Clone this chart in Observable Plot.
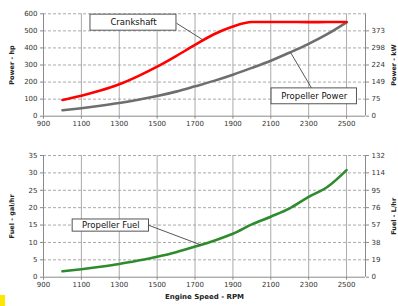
<!DOCTYPE html>
<html><head><meta charset="utf-8">
<script src="https://cdn.jsdelivr.net/npm/d3@7"></script>
<script src="https://cdn.jsdelivr.net/npm/@observablehq/plot@0.6"></script>
<style>
body{margin:0;background:#fff;width:398px;height:306px;overflow:hidden;position:relative;font-family:"DejaVu Sans",sans-serif;}
#topwrap{position:absolute;left:0;top:0;}
#botwrap{position:absolute;left:0;top:140px;}
#mark{position:absolute;left:0;top:295px;width:5px;height:11px;background:#ffe600;}
</style></head>
<body>
<div id="topwrap"></div><div id="botwrap"></div><div id="mark"></div>
<script>
// ---- data ----
const rpm = [1000,1100,1200,1300,1400,1500,1600,1700,1800,1900,2000,2100,2200,2300,2400,2500];
const crankshaftHp = [95,120,150,187,235,290,352,418,480,526,552,552,552,551,552,552];
const propellerHp = [35,47,61,77,96,118,144,175,207,243,283,325,373,424,482,550];
const propellerFuel = [1.7,2.3,3.0,3.8,4.8,5.9,7.2,8.8,10.5,12.5,15.2,17.4,19.8,23.1,26.0,30.8];

const xTicks = [900,1100,1300,1500,1700,1900,2100,2300,2500];
const hpTicks = [0,100,200,300,400,500,600];
const kwTicks = [0,100,200,300,400,500];
const kwLabels = ["0","75","149","224","298","373"];
const galTicks = [0,5,10,15,20,25,30,35];
const literLabels = ["0","19","38","57","76","95","114","132"];

// annotations (data coordinates)
const crankNote = {label:"Crankshaft", x1:1148, x2:1602, y1:501, y2:595, lx1:1602, ly1:545, lx2:1739, ly2:449};
const propNote = {label:"Propeller Power", x1:2104, x2:2555, y1:70, y2:163, lx1:2316, ly1:163, lx2:2205, ly2:372};
const fuelNote = {label:"Propeller Fuel", x1:1054, x2:1457, y1:13.1, y2:16.6, lx1:1457, ly1:14.9, lx2:1730, ly2:9.3};

const topData = rpm.map((r,i)=>({rpm:r, crank:crankshaftHp[i], prop:propellerHp[i]}));
const fuelData = rpm.map((r,i)=>({rpm:r, fuel:propellerFuel[i]}));

const gridColor = "#a0a0a0";
const axisColor = "#8a8a8a";
const font = {fontFamily:"DejaVu Sans", fontSize:"7px", color:"#333", background:"transparent"};

function noteMarks(n){
  return [
    Plot.link([n],{x1:"lx1",y1:"ly1",x2:"lx2",y2:"ly2",stroke:"#444",strokeWidth:0.9}),
    Plot.rect([n],{x1:"x1",x2:"x2",y1:"y1",y2:"y2",fill:"white",stroke:"#555",strokeWidth:1}),
    Plot.text([n],{x:d=>(d.x1+d.x2)/2, y:d=>(d.y1+d.y2)/2, text:"label", fontSize:8.5, fill:"#111", fontFamily:"DejaVu Sans"})
  ];
}

const topChart = Plot.plot({
  width:398, height:140,
  marginTop:13.3, marginBottom:24.3, marginLeft:43, marginRight:33,
  style:font,
  x:{domain:[900,2600]},
  y:{domain:[0,600]},
  marks:[
    Plot.ruleY(hpTicks.slice(1),{stroke:gridColor,strokeDasharray:"3,2",strokeWidth:0.9}),
    Plot.ruleX(xTicks.slice(1),{stroke:gridColor,strokeWidth:0.9}),
    Plot.ruleX([900,2600],{stroke:axisColor}),
    Plot.ruleY([0],{stroke:axisColor}),
    Plot.axisX({ticks:xTicks, tickSize:3, tickPadding:2, tickFormat:d=>String(d), label:null, stroke:axisColor}),
    Plot.axisY({ticks:hpTicks, tickSize:3, tickPadding:3, tickFormat:d=>String(d), label:null, stroke:axisColor}),
    Plot.axisY({anchor:"right", ticks:kwTicks, tickSize:3, tickPadding:3, tickFormat:d=>kwLabels[kwTicks.indexOf(d)], label:null, stroke:axisColor}),
    Plot.line(topData,{x:"rpm",y:"prop",stroke:"#6e6e6e",strokeWidth:2.6,curve:"monotone-x"}),
    Plot.line(topData,{x:"rpm",y:"crank",stroke:"#ff0000",strokeWidth:2.6,curve:"monotone-x"}),
    ...noteMarks(crankNote),
    ...noteMarks(propNote),
    Plot.text(["Power - hp"],{frameAnchor:"left",rotate:-90,dx:-32,textAnchor:"middle",fontWeight:"bold",fontSize:6.5,fill:"#222"}),
    Plot.text(["Power - kW"],{frameAnchor:"right",rotate:-90,dx:28,textAnchor:"middle",fontWeight:"bold",fontSize:6.5,fill:"#222"})
  ]
});
document.getElementById("topwrap").append(topChart);

const botChart = Plot.plot({
  width:398, height:166,
  marginTop:15, marginBottom:29.3, marginLeft:43, marginRight:33,
  style:font,
  x:{domain:[900,2600]},
  y:{domain:[0,35]},
  marks:[
    Plot.ruleY(galTicks.slice(1),{stroke:gridColor,strokeDasharray:"3,2",strokeWidth:0.9}),
    Plot.ruleX(xTicks.slice(1),{stroke:gridColor,strokeWidth:0.9}),
    Plot.ruleX([900,2600],{stroke:axisColor}),
    Plot.ruleY([0],{stroke:axisColor}),
    Plot.axisX({ticks:xTicks, tickSize:3, tickPadding:2, tickFormat:d=>String(d), label:null, stroke:axisColor}),
    Plot.axisY({ticks:galTicks, tickSize:3, tickPadding:3, tickFormat:d=>String(d), label:null, stroke:axisColor}),
    Plot.axisY({anchor:"right", ticks:galTicks, tickSize:3, tickPadding:3, tickFormat:d=>literLabels[galTicks.indexOf(d)], label:null, stroke:axisColor}),
    Plot.line(fuelData,{x:"rpm",y:"fuel",stroke:"#2e8b2e",strokeWidth:2.6,curve:"monotone-x"}),
    ...noteMarks(fuelNote),
    Plot.text(["Fuel - gal/hr"],{frameAnchor:"left",rotate:-90,dx:-32,textAnchor:"middle",fontWeight:"bold",fontSize:6.5,fill:"#222"}),
    Plot.text(["Fuel - L/hr"],{frameAnchor:"right",rotate:-90,dx:28,textAnchor:"middle",fontWeight:"bold",fontSize:6.5,fill:"#222"}),
    Plot.text(["Engine Speed - RPM"],{frameAnchor:"bottom",dy:22,textAnchor:"middle",fontWeight:"bold",fontSize:7,fill:"#222"})
  ]
});
document.getElementById("botwrap").append(botChart);
</script>
</body></html>
